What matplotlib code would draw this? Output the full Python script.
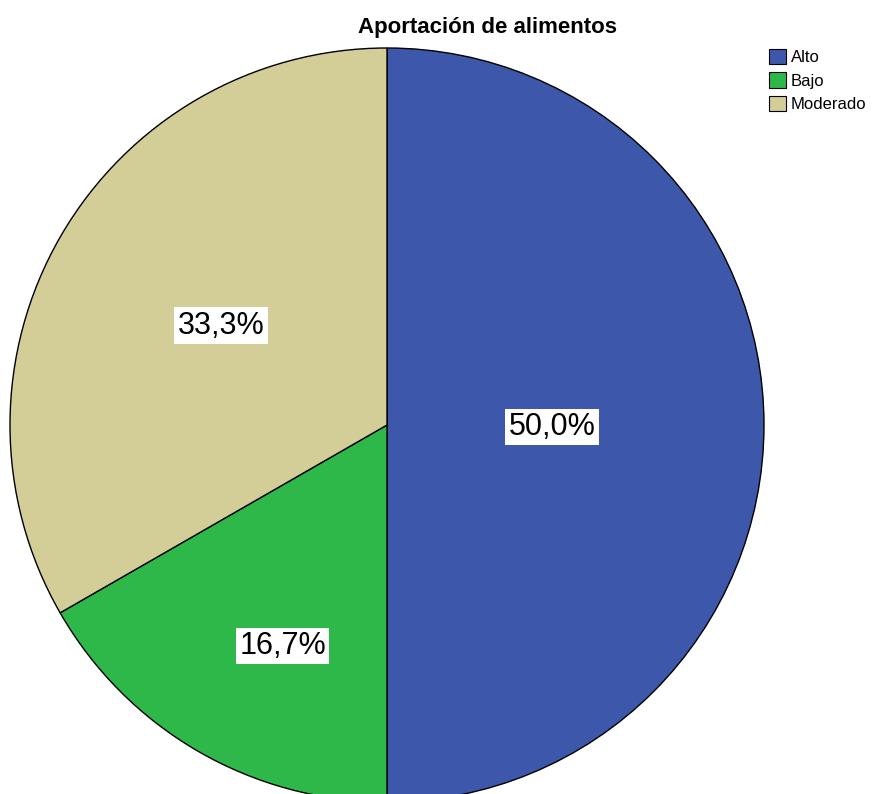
import numpy as np
import matplotlib.pyplot as plt
from matplotlib.patches import Patch

plt.rcParams['font.family'] = ['Liberation Sans', 'DejaVu Sans']

categorias = ["Alto", "Bajo", "Moderado"]
porcentajes = [50.0, 16.7, 33.3]
etiquetas = ["50,0%", "16,7%", "33,3%"]
colores = ["#3d57ab", "#2fb84a", "#d3cd98"]
# posicion de las etiquetas: distancia al centro y ajuste de angulo
distancias = [0.438, 0.648, 0.513]
desfase = [-0.7, 4.8, -0.9]

W, H = 872, 794
fig = plt.figure(figsize=(W / 100, H / 100), dpi=100)

cx, cy, r = 387, 425, 377
ax = fig.add_axes([(cx - r) / W, (H - cy - r) / H, 2 * r / W, 2 * r / H])
wedges, _ = ax.pie(porcentajes, colors=colores, startangle=90, counterclock=False,
                   wedgeprops=dict(edgecolor="black", linewidth=1.0))
ax.set_xlim(-1, 1)
ax.set_ylim(-1, 1)
ax.set_aspect("equal")
ax.axis("off")

for w, txt, d, da in zip(wedges, etiquetas, distancias, desfase):
    ang = np.deg2rad((w.theta1 + w.theta2) / 2 + da)
    ax.text(d * np.cos(ang), d * np.sin(ang), txt, ha="center", va="center", fontsize=22,
            bbox=dict(facecolor="white", edgecolor="none", pad=2.5))

fig.text(487 / W, 1 - 28 / H, "Aportación de alimentos", ha="center", va="center",
         fontsize=16, fontweight="bold")

handles = [Patch(facecolor=c, edgecolor="black", linewidth=0.8) for c in colores]
fig.legend(handles, categorias, loc="upper left", bbox_to_anchor=(769 / W, 1 - 49 / H),
           frameon=False, fontsize=12, handlelength=1.0, handleheight=1.05,
           handletextpad=0.3, labelspacing=0.42, borderpad=0, borderaxespad=0)

fig.savefig("out.png", dpi=100)
